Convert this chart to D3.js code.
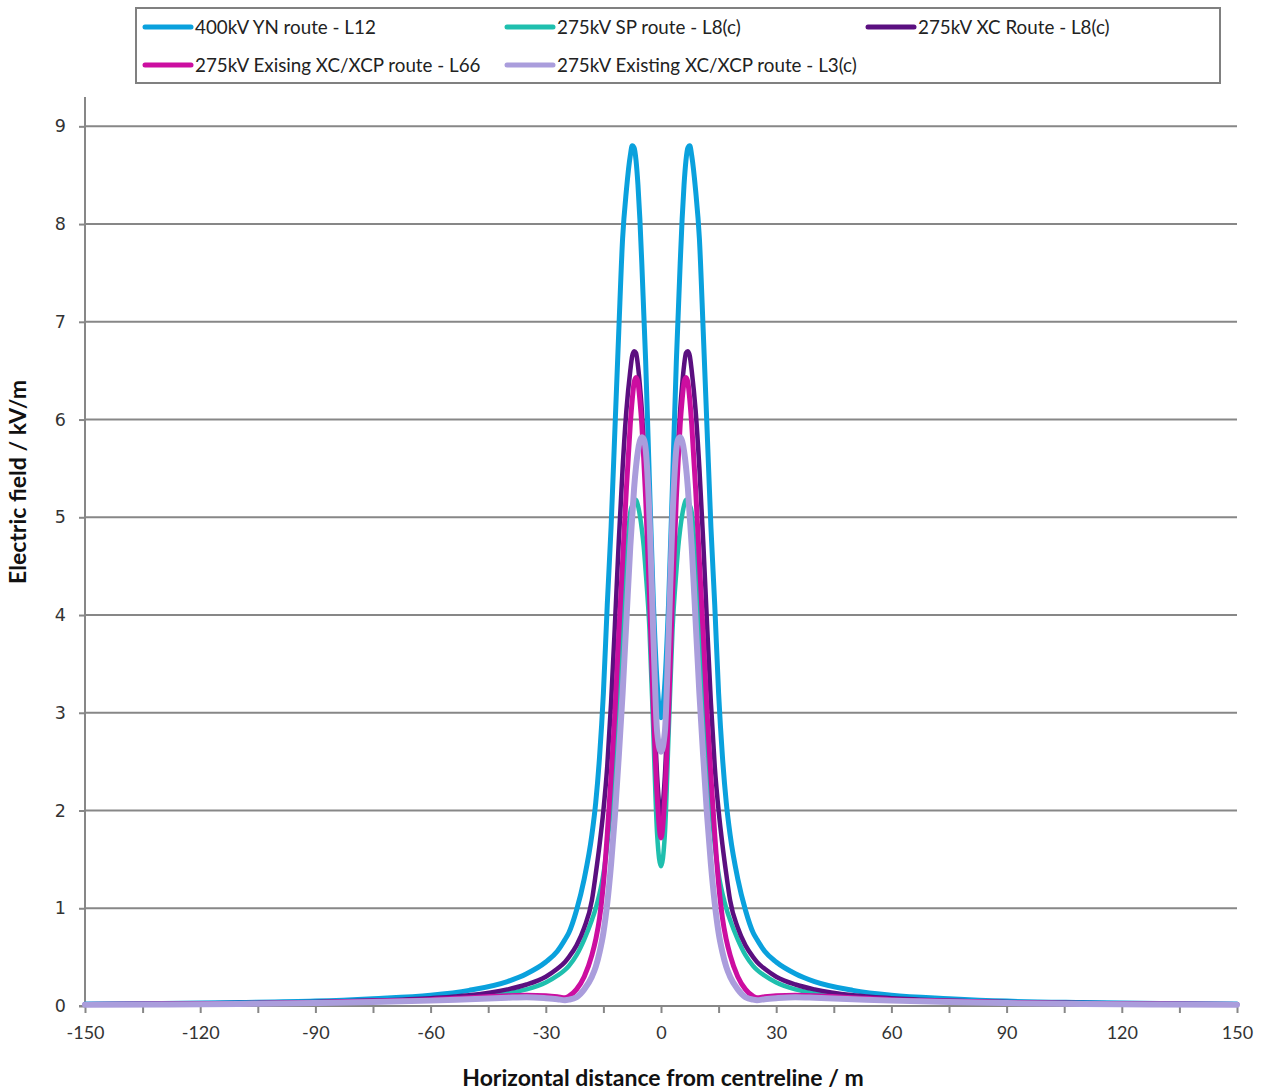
<!DOCTYPE html>
<html>
<head>
<meta charset="utf-8">
<script src="https://cdn.jsdelivr.net/npm/d3@7"></script>
<style>
  html, body { margin: 0; padding: 0; background: #fff; }
  svg { display: block; }
</style>
</head>
<body>
<svg id="chart" width="1263" height="1091"></svg>
<script>
// ---------- DATA ----------
const distance = [-150,-130,-110,-90,-75,-60,-50,-40,-35,-30,-27,-25,-24,-22,-20,-18,-17,-16,-15,-14,-13,-12,-11,-10,-9,-8,-7.5,-7,-6.5,-6,-5.5,-5,-4.5,-4,-3,-2,-1,0,
  1,2,3,4,4.5,5,5.5,6,6.5,7,7.5,8,9,10,11,12,13,14,15,16,17,18,20,22,24,25,27,30,35,40,50,60,75,90,110,130,150];

const yn400 = [0.02,0.025,0.035,0.05,0.075,0.11,0.16,0.25,0.33,0.45,0.56,0.68,0.75,0.98,1.3,1.75,2.08,2.55,3.2,4.1,4.9,5.9,6.9,7.85,8.35,8.7,8.8,8.78,8.65,8.4,8.05,7.6,7.1,6.6,5.35,4.15,3.3,2.95,
  3.3,4.15,5.35,6.6,7.1,7.6,8.05,8.4,8.65,8.78,8.8,8.7,8.35,7.85,6.9,5.9,4.9,4.1,3.2,2.55,2.08,1.75,1.3,0.98,0.75,0.68,0.56,0.45,0.33,0.25,0.16,0.11,0.075,0.05,0.035,0.025,0.02];

const sp275 = [0.016,0.02,0.028,0.038,0.05,0.068,0.09,0.13,0.17,0.24,0.31,0.37,0.41,0.52,0.68,0.88,1.0,1.15,1.35,1.65,2.05,2.6,3.25,3.9,4.55,5.05,5.12,5.17,5.18,5.12,5.02,4.88,4.7,4.45,3.85,2.8,1.75,1.43,
  1.75,2.8,3.85,4.45,4.7,4.88,5.02,5.12,5.18,5.17,5.12,5.05,4.55,3.9,3.25,2.6,2.05,1.65,1.35,1.15,1.0,0.88,0.68,0.52,0.41,0.37,0.31,0.24,0.17,0.13,0.09,0.068,0.05,0.038,0.028,0.02,0.016];

const xc275 = [0.017,0.022,0.03,0.04,0.055,0.08,0.11,0.17,0.22,0.3,0.38,0.45,0.5,0.62,0.8,1.08,1.35,1.65,2.0,2.45,3.1,3.9,4.75,5.5,6.1,6.5,6.65,6.7,6.68,6.55,6.35,6.1,5.75,5.35,4.4,3.3,2.35,1.95,
  2.35,3.3,4.4,5.35,5.75,6.1,6.35,6.55,6.68,6.7,6.65,6.5,6.1,5.5,4.75,3.9,3.1,2.45,2.0,1.65,1.35,1.08,0.8,0.62,0.5,0.45,0.38,0.3,0.22,0.17,0.11,0.08,0.055,0.04,0.03,0.022,0.017];

const exL66 = [0.015,0.02,0.025,0.035,0.05,0.065,0.085,0.105,0.11,0.105,0.095,0.085,0.1,0.17,0.3,0.52,0.68,0.9,1.25,1.75,2.35,3.0,3.8,4.55,5.3,5.95,6.2,6.38,6.43,6.38,6.2,5.95,5.6,5.2,4.2,3.05,2.15,1.72,
  2.15,3.05,4.2,5.2,5.6,5.95,6.2,6.38,6.43,6.38,6.2,5.95,5.3,4.55,3.8,3.0,2.35,1.75,1.25,0.9,0.68,0.52,0.3,0.17,0.1,0.085,0.095,0.105,0.11,0.105,0.085,0.065,0.05,0.035,0.025,0.02,0.015];

const exL3 = [0.012,0.015,0.02,0.03,0.04,0.055,0.07,0.085,0.09,0.08,0.07,0.06,0.065,0.09,0.17,0.3,0.4,0.55,0.75,1.05,1.45,1.95,2.55,3.2,3.95,4.7,5.0,5.3,5.52,5.68,5.78,5.82,5.8,5.7,5.0,3.8,2.8,2.6,
  2.8,3.8,5.0,5.7,5.8,5.82,5.78,5.68,5.52,5.3,5.0,4.7,3.95,3.2,2.55,1.95,1.45,1.05,0.75,0.55,0.4,0.3,0.17,0.09,0.065,0.06,0.07,0.08,0.09,0.085,0.07,0.055,0.04,0.03,0.02,0.015,0.012];

const seriesNames = ["400kV YN route - L12", "275kV SP route - L8(c)", "275kV XC Route - L8(c)",
                     "275kV Exising XC/XCP route - L66", "275kV Existing XC/XCP route - L3(c)"];
const seriesValues = [yn400, sp275, xc275, exL66, exL3];
const seriesColors = ["#0aa1dd", "#1fbfae", "#5b0f80", "#cc0ea0", "#aa9ddc"];
const seriesWidths = [5, 4.5, 4.5, 5, 6];

const xTickValues = [-150,-120,-90,-60,-30,0,30,60,90,120,150];
const xMinorTicks = d3.range(-150, 151, 15);
const yTickValues = [0,1,2,3,4,5,6,7,8,9];

// ---------- LAYOUT ----------
const svg = d3.select("#chart");
const plotLeft = 85, plotRight = 1237, plotTop = 97, plotBottom = 1006;

const x = d3.scaleLinear().domain([-150, 150]).range([plotLeft, plotRight]);
const y = d3.scaleLinear().domain([0, 9.3]).range([plotBottom, plotTop]);

const gridColor = "#878787";

// gridlines
svg.append("g")
  .selectAll("line")
  .data(yTickValues.filter(d => d > 0))
  .join("line")
  .attr("x1", plotLeft).attr("x2", plotRight)
  .attr("y1", d => y(d)).attr("y2", d => y(d))
  .attr("stroke", gridColor).attr("stroke-width", 2);

// Y axis
const yAxis = d3.axisLeft(y).tickValues(yTickValues).tickSize(6).tickPadding(13).tickFormat(d => String(d));
const gy = svg.append("g").attr("transform", `translate(${plotLeft},0)`).call(yAxis);
gy.select(".domain").attr("stroke", gridColor).attr("stroke-width", 2).attr("d", `M-6,${plotBottom}H0V${plotTop}`);
gy.selectAll(".tick line").attr("stroke", gridColor).attr("stroke-width", 2);
gy.selectAll(".tick text").attr("font-family", "DejaVu Sans, sans-serif").attr("font-size", 17.5).attr("fill", "#333");

// X axis
const xAxis = d3.axisBottom(x).tickValues(xMinorTicks).tickSize(7).tickPadding(13)
  .tickFormat(d => xTickValues.includes(d) ? String(d) : "");
const gx = svg.append("g").attr("transform", `translate(0,${plotBottom})`).call(xAxis);
gx.select(".domain").attr("stroke", gridColor).attr("stroke-width", 2).attr("d", `M${plotLeft},0H${plotRight}`);
gx.selectAll(".tick line").attr("stroke", gridColor).attr("stroke-width", 2);
gx.selectAll(".tick text").attr("font-family", "Lato, sans-serif").attr("font-size", 18).attr("fill", "#333");

// lines
const line = d3.line().curve(d3.curveMonotoneX);
const gLines = svg.append("g");
seriesValues.forEach((vals, i) => {
  gLines.append("path")
    .datum(distance.map((d, j) => [x(d), y(vals[j])]))
    .attr("d", line)
    .attr("fill", "none")
    .attr("stroke", seriesColors[i])
    .attr("stroke-width", seriesWidths[i])
    .attr("stroke-linejoin", "round")
    .attr("stroke-linecap", "round");
});

// axis titles
svg.append("text")
  .attr("x", 663).attr("y", 1086)
  .attr("text-anchor", "middle")
  .attr("font-family", "Lato, sans-serif").attr("font-weight", "bold").attr("font-size", 23)
  .attr("fill", "#111")
  .text("Horizontal distance from centreline / m");

svg.append("text")
  .attr("transform", "translate(26,482) rotate(-90)")
  .attr("text-anchor", "middle")
  .attr("font-family", "Lato, sans-serif").attr("font-weight", "bold").attr("font-size", 23)
  .attr("fill", "#111")
  .text("Electric field / kV/m");

// legend
svg.append("rect")
  .attr("x", 136).attr("y", 8).attr("width", 1084).attr("height", 75)
  .attr("fill", "#fff").attr("stroke", "#808080").attr("stroke-width", 2);

const legendPos = [[143, 27], [505, 27], [866, 27], [143, 65], [505, 65]];
const lg = svg.append("g");
seriesNames.forEach((name, i) => {
  const [lx, ly] = legendPos[i];
  lg.append("line")
    .attr("x1", lx + 2).attr("x2", lx + 48).attr("y1", ly).attr("y2", ly)
    .attr("stroke", seriesColors[i]).attr("stroke-width", 5).attr("stroke-linecap", "round");
  lg.append("text")
    .attr("x", lx + 52).attr("y", ly + 6.5)
    .attr("font-family", "Lato, sans-serif").attr("font-size", 18.8).attr("fill", "#222")
    .text(name);
});
</script>
</body>
</html>
